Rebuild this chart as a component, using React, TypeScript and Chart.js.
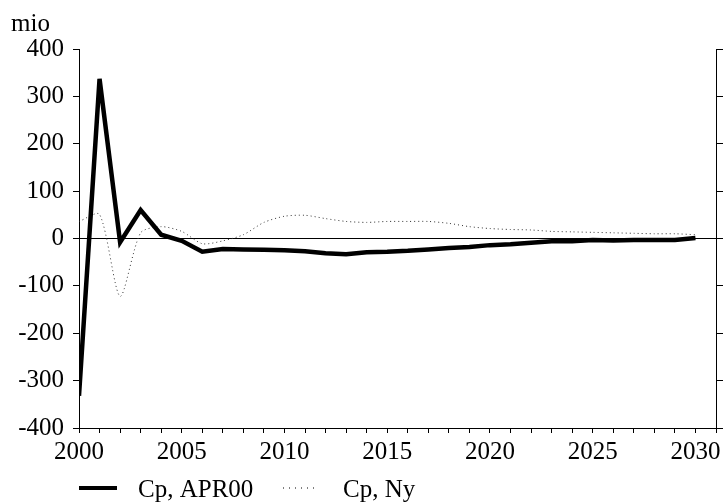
import React, { useEffect, useRef } from "react";
import { Chart, registerables } from "chart.js";

Chart.register(...registerables);

const years = [
  2000, 2001, 2002, 2003, 2004, 2005, 2006, 2007, 2008, 2009, 2010,
  2011, 2012, 2013, 2014, 2015, 2016, 2017, 2018, 2019, 2020,
  2021, 2022, 2023, 2024, 2025, 2026, 2027, 2028, 2029, 2030,
];

const cpApr00 = [
  -332, 337, -8, 60, 8, -5, -28, -22, -23, -24, -25,
  -27, -31, -33, -29, -28, -26, -23, -20, -18, -14,
  -12, -9, -6, -6, -3, -4, -3, -3, -3, 1,
];

const cpNy = [
  36, 51, -122, 12, 25, 15, -11, -5, 8, 34, 47,
  49, 42, 36, 34, 36, 36, 36, 32, 25, 21,
  19, 18, 15, 14, 13, 12, 11, 10, 10, 8,
];

const yTicks = [-400, -300, -200, -100, 0, 100, 200, 300, 400];
const xLabelYears = [2000, 2005, 2010, 2015, 2020, 2025, 2030];

const unitLabel = "mio";
const legendLabels = ["Cp, APR00", "Cp, Ny"];

const FONT = "'Liberation Serif', 'DejaVu Serif', serif";
const FS = 25;

export default function App() {
  const ref = useRef<HTMLCanvasElement | null>(null);

  useEffect(() => {
    document.body.style.margin = "0";
    const canvas = ref.current;
    if (!canvas) return;

    const extras = {
      id: "extras",
      afterDraw(chart: any) {
        const ctx = chart.ctx;
        ctx.save();
        ctx.fillStyle = "#000";
        ctx.font = `${FS}px ${FONT}`;
        ctx.textBaseline = "alphabetic";
        ctx.textAlign = "left";
        ctx.fillText(unitLabel, 11, 31);

        const ly = 488;
        ctx.strokeStyle = "#000";
        ctx.lineWidth = 4;
        ctx.setLineDash([]);
        ctx.beginPath();
        ctx.moveTo(79, ly);
        ctx.lineTo(117, ly);
        ctx.stroke();
        ctx.fillText(legendLabels[0], 138, 497);
        ctx.lineWidth = 1;
        ctx.setLineDash([1, 5]);
        ctx.beginPath();
        ctx.moveTo(283, ly);
        ctx.lineTo(314, ly);
        ctx.stroke();
        ctx.setLineDash([]);
        ctx.fillText(legendLabels[1], 343, 497);
        ctx.restore();
      },
    };

    const chart = new Chart(canvas, {
      type: "line",
      data: {
        datasets: [
          {
            label: legendLabels[0],
            data: years.map((x, i) => ({ x, y: cpApr00[i] })),
            borderColor: "#000",
            borderWidth: 4.5,
            pointRadius: 0,
            tension: 0,
            borderJoinStyle: "miter",
          },
          {
            label: legendLabels[1],
            data: years.map((x, i) => ({ x, y: cpNy[i] })),
            borderColor: "#333",
            borderWidth: 1,
            borderDash: [1, 3],
            pointRadius: 0,
            tension: 0.25,
          },
        ],
      },
      options: {
        responsive: false,
        animation: false,
        devicePixelRatio: 1,
        layout: { padding: { top: 49, left: 0, right: 0, bottom: 0 } },
        plugins: {
          legend: { display: false },
          tooltip: { enabled: false },
        },
        scales: {
          x: {
            type: "linear",
            min: 2000,
            max: 2031,
            afterBuildTicks: (s: any) => {
              const t = [];
              for (let v = 2000; v <= 2031; v++) t.push({ value: v });
              s.ticks = t;
            },
            ticks: {
              autoSkip: false,
              maxRotation: 0,
              color: "#000",
              font: { family: FONT, size: FS },
              padding: 4,
              callback: (v: any) => (xLabelYears.includes(Number(v)) ? String(v) : ""),
            },
            grid: {
              drawOnChartArea: false,
              tickLength: 5,
              tickColor: "#000",
            },
            border: { color: "#000", width: 1 },
            afterFit: (s: any) => {
              s.height = 76;
            },
          },
          y: {
            type: "linear",
            position: "left",
            min: -400,
            max: 400,
            afterBuildTicks: (s: any) => {
              s.ticks = yTicks.map((v) => ({ value: v }));
            },
            ticks: {
              color: "#000",
              font: { family: FONT, size: FS },
              padding: 9,
            },
            grid: {
              drawOnChartArea: true,
              color: (c: any) => (c.tick && c.tick.value === 0 ? "#000" : "rgba(0,0,0,0)"),
              tickColor: "#000",
              tickLength: 6,
            },
            border: { color: "#000", width: 1 },
            afterFit: (s: any) => {
              s.width = 79;
            },
          },
          y2: {
            type: "linear",
            position: "right",
            min: -400,
            max: 400,
            afterBuildTicks: (s: any) => {
              s.ticks = yTicks.map((v) => ({ value: v }));
            },
            ticks: { display: false },
            grid: {
              drawOnChartArea: false,
              tickColor: "#000",
              tickLength: 7,
            },
            border: { color: "#000", width: 1 },
            afterFit: (s: any) => {
              s.width = 9;
            },
          },
        },
      },
      plugins: [extras],
    });

    return () => chart.destroy();
  }, []);

  return (
    <div style={{ width: 725, height: 504 }}>
      <canvas ref={ref} width={725} height={504} />
    </div>
  );
}
